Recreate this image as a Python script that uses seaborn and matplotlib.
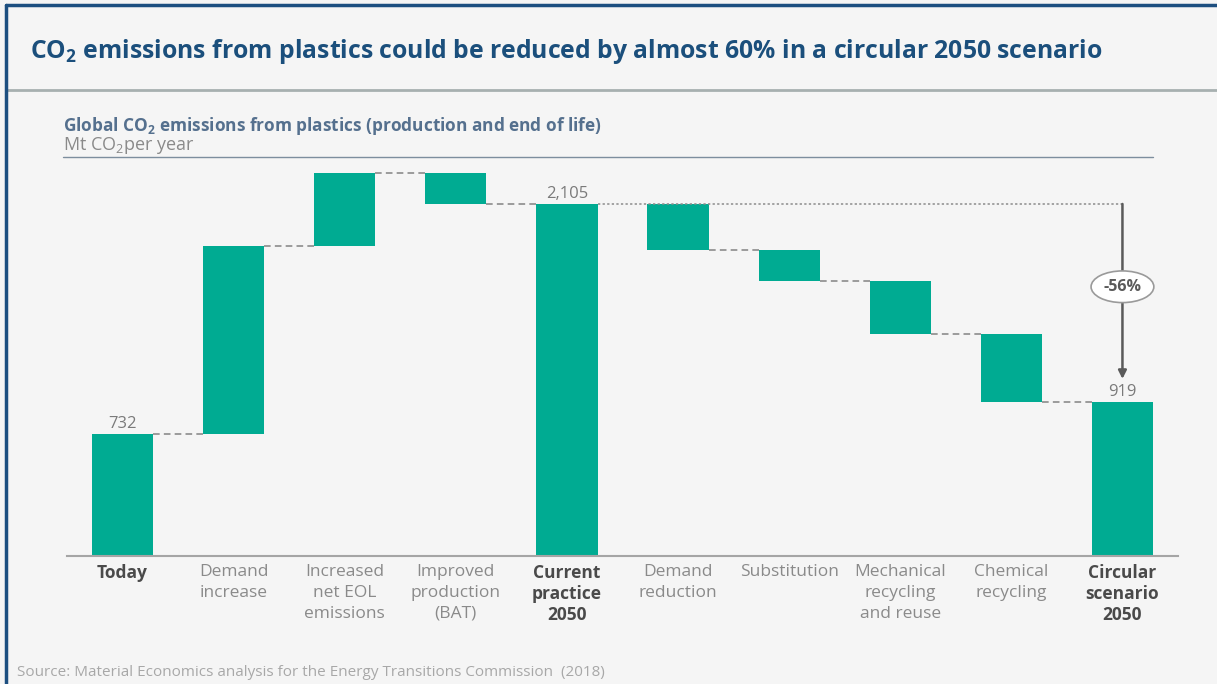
import matplotlib
matplotlib.use("Agg")
import matplotlib.pyplot as plt
from matplotlib.lines import Line2D
import numpy as np
import pandas as pd
import seaborn as sns

# ---- data -------------------------------------------------------------
categories = [
    "Today", "Demand\nincrease", "Increased\nnet EOL\nemissions",
    "Improved\nproduction\n(BAT)", "Current\npractice\n2050",
    "Demand\nreduction", "Substitution", "Mechanical\nrecycling\nand reuse",
    "Chemical\nrecycling", "Circular\nscenario\n2050",
]
# totals are absolute levels, steps are changes between them
kinds = ["total", "step", "step", "step", "total",
         "step", "step", "step", "step", "total"]
values = [732, 1122, 437, -186, 2105, -275, -185, -317, -409, 919]
total_labels = {0: "732", 4: "2,105", 9: "919"}
change_label = "-56%"

# ---- waterfall geometry ----------------------------------------------
bottoms, heights, ends = [], [], []
level = 0.0
for k, v in zip(kinds, values):
    if k == "total":
        bottoms.append(0.0)
        heights.append(v)
        level = v
    else:
        start, level = level, level + v
        bottoms.append(min(start, level))
        heights.append(abs(v))
    ends.append(level)

df = pd.DataFrame({"category": categories, "height": heights})

# ---- styling ----------------------------------------------------------
sns.set_theme(style="white")
BG = "#f5f5f5"
TEAL = "#00ab92"
TITLE_BLUE = "#1b4f7c"
SUB_BLUE = "#55708e"
GREY = "#8a8a8a"
DARK = "#4a4a4a"
plt.rcParams["font.family"] = ["Open Sans", "DejaVu Sans"]
plt.rcParams["mathtext.fontset"] = "custom"
plt.rcParams["mathtext.rm"] = "Open Sans"
plt.rcParams["mathtext.bf"] = "Open Sans:bold"

W, H = 1217, 684
fig = plt.figure(figsize=(W / 100, H / 100), dpi=100, facecolor=BG)

def fx(px):
    return px / W

def fy(py):
    return 1 - py / H

ax = fig.add_axes([fx(67), fy(556), fx(1178) - fx(67), fy(160) - fy(556)])
ax.set_facecolor(BG)

sns.barplot(data=df, x="category", y="height", order=categories,
            color=TEAL, saturation=1, width=0.55, bottom=bottoms,
            ax=ax, errorbar=None, linewidth=0)

ax.set_xlim(-0.5, len(categories) - 0.5)
ax.set_ylim(0, 2368)
ax.set_xlabel("")
ax.set_ylabel("")
ax.set_yticks([])
for s in ["top", "right", "left"]:
    ax.spines[s].set_visible(False)
ax.spines["bottom"].set_color("#a5a5a5")
ax.spines["bottom"].set_linewidth(1.5)
ax.tick_params(axis="x", length=0, pad=6)

bold_idx = {0, 4, 9}
for i, t in enumerate(ax.get_xticklabels()):
    t.set_fontsize(12.5)
    if i in bold_idx:
        t.set_fontweight("bold")
        t.set_color(DARK)
        t.set_linespacing(1.2)
    else:
        t.set_color(GREY)
        t.set_linespacing(1.4)

# connectors between consecutive bars
half = 0.55 / 2
arrow_x = 9
for i in range(len(categories) - 1):
    y = ends[i]
    x0 = i + half
    if i == 4:
        ax.plot([x0, arrow_x], [y, y], color="#8c8c8c", lw=1.1,
                ls=(0, (1.5, 1.5)), zorder=1)
    else:
        ax.plot([x0, i + 1 - half], [y, y], color="#8c8c8c", lw=1.2,
                ls=(0, (4, 2.5)), zorder=1)

# totals labels
for i, txt in total_labels.items():
    ax.annotate(txt, (i, ends[i]), xytext=(0, 1.5), textcoords="offset points",
                ha="center", va="bottom", fontsize=12, color="#7a7a7a")

# reduction arrow with percentage badge
ax.annotate("", xy=(arrow_x, ends[9] + 140), xytext=(arrow_x, ends[4]),
            arrowprops=dict(arrowstyle="-|>", color="#5a5a5a", lw=1.8,
                            mutation_scale=12, shrinkA=0, shrinkB=0))
ax.text(arrow_x, 1610, change_label, ha="center", va="center", fontsize=11.5,
        fontweight="bold", color="#5a5a5a",
        bbox=dict(boxstyle="ellipse,pad=0.2", fc="white", ec="#9a9a9a", lw=1.2))

# ---- header, subtitles, frame ----------------------------------------
fig.text(fx(30), fy(52), r"CO$_\mathbf{2}$ emissions from plastics could be reduced by almost 60% in a circular 2050 scenario",
         ha="left", va="center", fontsize=17.8, fontweight="bold", color=TITLE_BLUE)
fig.add_artist(Line2D([fx(6), 1], [fy(90), fy(90)], color="#a7b0b0", lw=2))

fig.text(fx(63), fy(126), r"Global CO$_\mathbf{2}$ emissions from plastics (production and end of life)",
         ha="left", va="center", fontsize=12.4, fontweight="bold", color=SUB_BLUE)
fig.text(fx(63), fy(146), r"Mt CO$_2$per year", ha="left", va="center",
         fontsize=13, color="#8a8a8a")
fig.add_artist(Line2D([fx(63), fx(1153)], [fy(157), fy(157)], color="#7d8e9e", lw=1))

fig.text(fx(17), fy(672), "Source: Material Economics analysis for the Energy Transitions Commission  (2018)",
         ha="left", va="center", fontsize=11, color="#a8a8a8")

# outer frame on the left and top
fig.add_artist(Line2D([fx(6), fx(6)], [0, fy(5)], color="#1d4f80", lw=2.5))
fig.add_artist(Line2D([fx(6), 1], [fy(5), fy(5)], color="#1d4f80", lw=2.5))

fig.savefig("out.png", dpi=100, facecolor=BG)
